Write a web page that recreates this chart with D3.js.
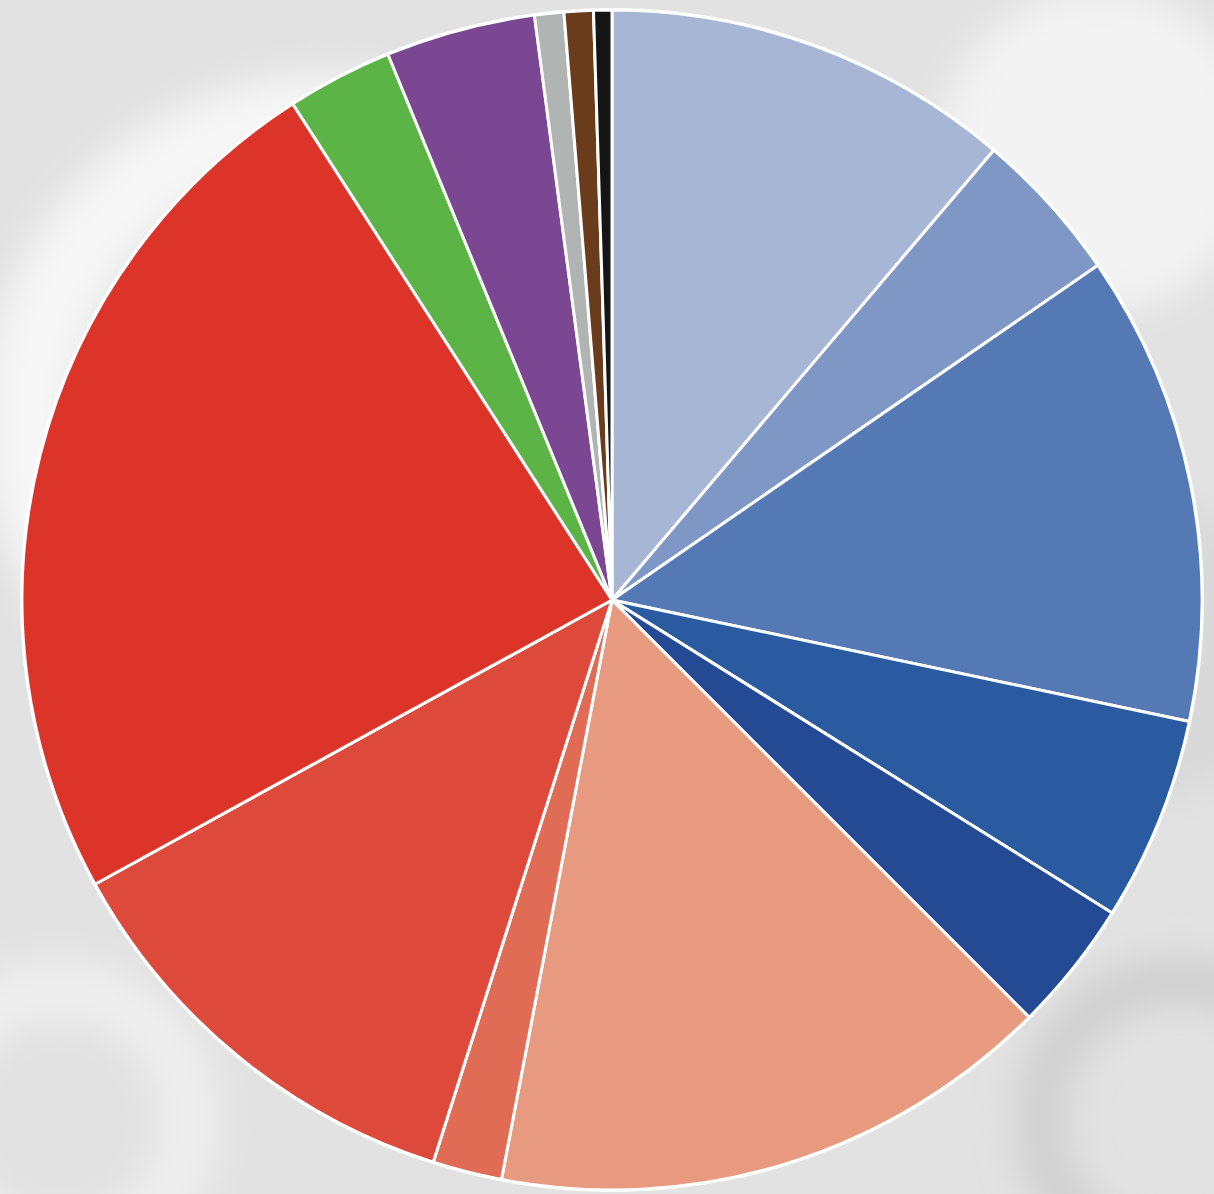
<!DOCTYPE html>
<html>
<head>
<meta charset="utf-8">
<script src="https://cdn.jsdelivr.net/npm/d3@7/dist/d3.min.js"></script>
<style>
  html, body { margin: 0; padding: 0; background: #e3e3e3; }
  svg { display: block; }
</style>
</head>
<body>
<svg id="chart" width="1214" height="1194"></svg>
<script>
// Slice data (clockwise from 12 o'clock), values in percent
const categories = ["A1", "A2", "A3", "A4", "A5", "B1", "B2", "B3", "B4", "C", "D", "E", "F", "G"];
const values = [11.2, 4.2, 12.9, 5.6, 3.6, 15.5, 1.9, 12.1, 23.9, 2.9, 4.1, 0.8, 0.8, 0.5];
const colors = ["#a8b6d6", "#7e97c4", "#5579b4", "#2a5ba0", "#234a92",
                "#e89a80", "#e06c56", "#dd4a3b", "#dc3428",
                "#5cb447", "#7b4692", "#b0b4b3", "#6a3c1c", "#151515"];

const W = 1214, H = 1194;
const cx = 612, cy = 600, R = 590;
const svg = d3.select("#chart");

// Background: soft grey textured look
const defs = svg.append("defs");
defs.append("filter").attr("id", "blur").attr("x", "-20%").attr("y", "-20%").attr("width", "140%").attr("height", "140%")
  .append("feGaussianBlur").attr("stdDeviation", 18);
const bg = svg.append("g");
bg.append("rect").attr("width", W).attr("height", H).attr("fill", "#e2e2e2");
const bgShapes = bg.append("g").attr("filter", "url(#blur)");
bgShapes.append("circle").attr("cx", 330).attr("cy", 420).attr("r", 300)
  .attr("fill", "none").attr("stroke", "#f6f6f6").attr("stroke-width", 90);
bgShapes.append("circle").attr("cx", 330).attr("cy", 420).attr("r", 180)
  .attr("fill", "none").attr("stroke", "#d4d4d4").attr("stroke-width", 70);
bgShapes.append("circle").attr("cx", 1100).attr("cy", 150).attr("r", 160)
  .attr("fill", "#f3f3f3");
bgShapes.append("circle").attr("cx", 1180).attr("cy", 1120).attr("r", 140)
  .attr("fill", "none").attr("stroke", "#d0d0d0").attr("stroke-width", 50);
bgShapes.append("circle").attr("cx", 60).attr("cy", 1120).attr("r", 130)
  .attr("fill", "none").attr("stroke", "#eeeeee").attr("stroke-width", 60);
bgShapes.append("circle").attr("cx", 1150).attr("cy", 650).attr("r", 150)
  .attr("fill", "#d9d9d9");

// Pie
const pie = d3.pie().sort(null).value(d => d.v);
const arc = d3.arc().innerRadius(0).outerRadius(R);
const data = categories.map((c, i) => ({ c, v: values[i], col: colors[i] }));

const g = svg.append("g").attr("transform", `translate(${cx},${cy})`);
// white outer ring
g.append("circle").attr("r", R + 2).attr("fill", "#ffffff");
g.selectAll("path.slice")
  .data(pie(data))
  .join("path")
  .attr("class", "slice")
  .attr("d", arc)
  .attr("fill", d => d.data.col)
  .attr("stroke", "#ffffff")
  .attr("stroke-width", 3)
  .attr("stroke-linejoin", "round");
</script>
</body>
</html>
